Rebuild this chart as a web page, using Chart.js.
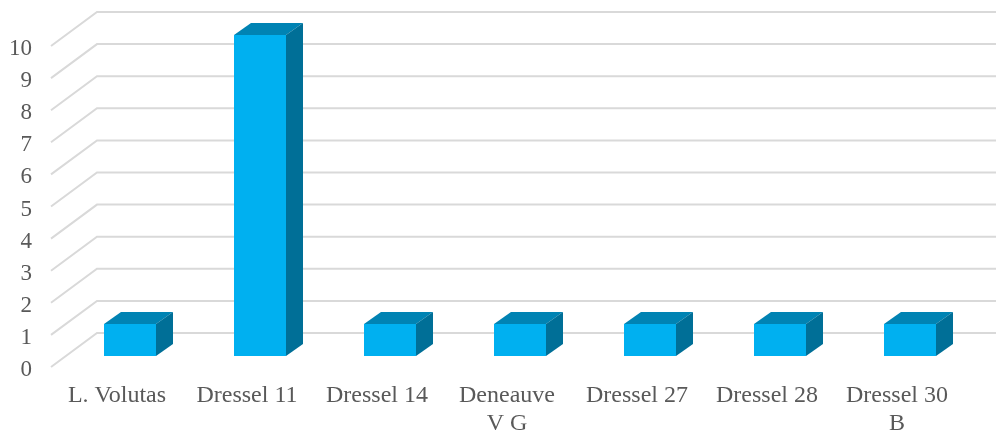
<!DOCTYPE html>
<html>
<head>
<meta charset="utf-8">
<script src="https://cdn.jsdelivr.net/npm/chart.js@4.4.0/dist/chart.umd.min.js"></script>
<style>
  html, body { margin: 0; padding: 0; background: #fff; }
  #wrap { width: 996px; height: 432px; }
</style>
</head>
<body>
<div id="wrap"><canvas id="chart" width="996" height="432"></canvas></div>
<script>
// amphora types and counts
const categories = ['L. Volutas', 'Dressel 11', 'Dressel 14', ['Deneauve', 'V G'], 'Dressel 27', 'Dressel 28', ['Dressel 30', 'B']];
const counts = [1, 10, 1, 1, 1, 1, 1];
const yTicks = [0, 1, 2, 3, 4, 5, 6, 7, 8, 9, 10];

const FRONT = '#00B0F0', TOP = '#0083B3', SIDE = '#006F97';
const GRID = '#D9D9D9', TEXT = '#595959';

// fake 3D: bar depth and floor/wall offsets
const depth = { dx: 17, dy: -12 };
const floor = { x0: 51, x1: 97, front: 11, back: -23 };

const walls3d = {
  id: 'walls3d',
  beforeDatasetsDraw(chart) {
    const { ctx } = chart;
    const y = chart.scales.y;
    ctx.save();
    ctx.strokeStyle = GRID;
    ctx.lineWidth = 2;
    yTicks.forEach((v) => {
      const py = y.getPixelForValue(v);
      ctx.beginPath();
      ctx.moveTo(floor.x0, py + floor.front);
      ctx.lineTo(floor.x1, py + floor.back);
      ctx.lineTo(chart.width, py + floor.back);
      ctx.stroke();
    });
    ctx.restore();
  },
  afterDatasetsDraw(chart) {
    const { ctx } = chart;
    const meta = chart.getDatasetMeta(0);
    ctx.save();
    meta.data.forEach((bar) => {
      const { x, y, base, width } = bar.getProps(['x', 'y', 'base', 'width'], true);
      const l = x - width / 2, r = x + width / 2;
      // top face
      ctx.fillStyle = TOP;
      ctx.beginPath();
      ctx.moveTo(l, y);
      ctx.lineTo(l + depth.dx, y + depth.dy);
      ctx.lineTo(r + depth.dx, y + depth.dy);
      ctx.lineTo(r, y);
      ctx.closePath();
      ctx.fill();
      // side face
      ctx.fillStyle = SIDE;
      ctx.beginPath();
      ctx.moveTo(r, y);
      ctx.lineTo(r + depth.dx, y + depth.dy);
      ctx.lineTo(r + depth.dx, base + depth.dy);
      ctx.lineTo(r, base);
      ctx.closePath();
      ctx.fill();
    });
    ctx.restore();
  },
};

new Chart(document.getElementById('chart'), {
  type: 'bar',
  data: {
    labels: categories,
    datasets: [{
      data: counts,
      backgroundColor: FRONT,
      borderWidth: 0,
      barPercentage: 0.8,
      categoryPercentage: 0.5,
    }],
  },
  options: {
    responsive: false,
    animation: false,
    layout: { padding: { left: 0, right: 21, top: 35, bottom: 0 } },
    plugins: { legend: { display: false }, tooltip: { enabled: false } },
    scales: {
      x: {
        grid: { display: false, drawTicks: false },
        border: { display: false },
        afterFit(s) { s.height = 76; },
        ticks: {
          color: TEXT,
          font: { family: 'Liberation Serif', size: 24 },
          padding: 25,
          labelOffset: -13,
          maxRotation: 0,
          autoSkip: false,
        },
      },
      y: {
        min: 0,
        max: 10,
        // tick marks hidden, but their length spaces the labels off the floor
        grid: { display: false, drawTicks: true, tickLength: 30 },
        border: { display: false },
        afterFit(s) { s.width = 65; },
        ticks: {
          stepSize: 1,
          color: TEXT,
          font: { family: 'Liberation Serif', size: 23 },
          padding: 3,
          labelOffset: 14,
        },
      },
    },
  },
  plugins: [walls3d],
});
</script>
</body>
</html>
